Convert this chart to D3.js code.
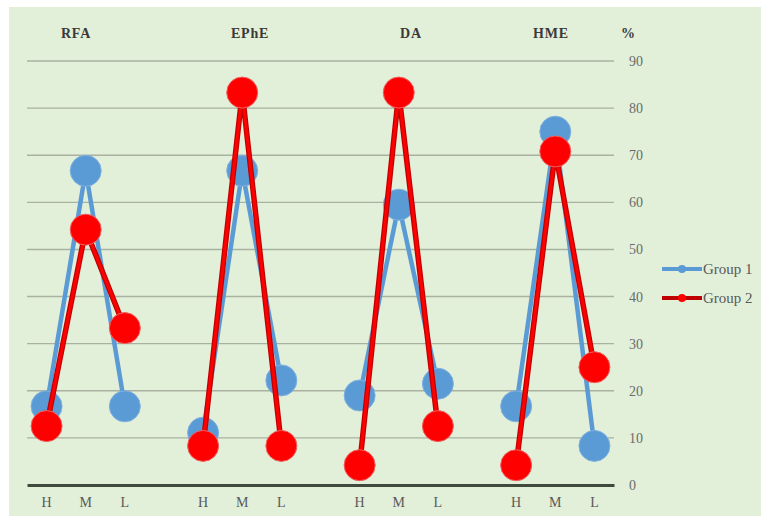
<!DOCTYPE html>
<html>
<head>
<meta charset="utf-8">
<script src="https://cdn.jsdelivr.net/npm/d3@7/dist/d3.min.js"></script>
<style>
html,body{margin:0;padding:0;background:#ffffff;}
svg{display:block;}
</style>
</head>
<body>
<svg id="chart" width="761" height="516"></svg>
<script>
// ---- data ----
const groups = ["RFA", "EPhE", "DA", "HME"];
const levels = ["H", "M", "L"];
const group1 = [16.7, 66.7, 16.7, 11.1, 66.7, 22.2, 19.0, 59.5, 21.5, 16.7, 75.0, 8.3];
const group2 = [12.5, 54.2, 33.3, 8.3, 83.3, 8.3, 4.2, 83.3, 12.5, 4.2, 70.8, 25.0];
const seriesNames = ["Group 1", "Group 2"];
const yTicks = [0, 10, 20, 30, 40, 50, 60, 70, 80, 90];
const unitLabel = "%";

// ---- layout ----
const W = 761, H = 516;
const plot = {left: 27, right: 614, top: 61, bottom: 485};
const titleX = [76, 250, 411, 551];
const colors = {g1: "#5b9bd5", g2: "#ff0000", g2edge: "#c00000"};

const svg = d3.select("#chart");
svg.append("rect").attr("x", 9).attr("y", 7).attr("width", W - 9).attr("height", H - 7).attr("fill", "#e2efd9");

// category slots: 3 per group plus one blank slot between groups
const slots = [];
groups.forEach((g, gi) => {
  levels.forEach((l, li) => slots.push({key: g + "-" + l, group: g, level: l, idx: gi * 3 + li}));
  if (gi < groups.length - 1) slots.push({key: "gap" + gi, gap: true});
});

const x = d3.scaleBand().domain(slots.map(s => s.key)).range([plot.left, plot.right]).paddingInner(0).paddingOuter(0);
const y = d3.scaleLinear().domain([0, 90]).range([plot.bottom, plot.top]);
const cx = s => x(s.key) + x.bandwidth() / 2;

// gridlines
svg.append("g").selectAll("line").data(yTicks.filter(t => t > 0)).join("line")
  .attr("x1", plot.left).attr("x2", plot.right)
  .attr("y1", d => y(d)).attr("y2", d => y(d))
  .attr("stroke", "#a9b2a0").attr("stroke-width", 1.4);

// y axis labels (right side)
const yAxis = d3.axisRight(y).tickValues(yTicks).tickSize(0).tickPadding(0);
const ya = svg.append("g").attr("transform", `translate(${plot.right + 15},0)`).call(yAxis);
ya.select(".domain").remove();
ya.selectAll("text").attr("font-family", "Liberation Serif, serif").attr("font-size", 14).attr("fill", "#6b6b6b");

// x axis line + labels
const realSlots = slots.filter(s => !s.gap);
const xAxis = d3.axisBottom(x).tickValues(realSlots.map(s => s.key)).tickFormat(k => k.split("-")[1]).tickSize(0).tickPadding(12);
const xa = svg.append("g").attr("transform", `translate(0,${plot.bottom})`).call(xAxis);
xa.select(".domain").attr("stroke", "#404a3c").attr("stroke-width", 3);
xa.selectAll("text").attr("font-family", "Liberation Serif, serif").attr("font-size", 14).attr("fill", "#595959");

// group titles
svg.append("g").selectAll("text").data(groups).join("text")
  .attr("x", (d, i) => titleX[i]).attr("y", 38)
  .attr("text-anchor", "middle").attr("font-family", "Liberation Serif, serif")
  .attr("font-weight", "bold").attr("font-size", 14).attr("letter-spacing", 0.8).attr("fill", "#3a3a3a")
  .text(d => d);
svg.append("text").attr("x", 628).attr("y", 38).attr("text-anchor", "middle")
  .attr("font-family", "Liberation Serif, serif").attr("font-weight", "bold").attr("font-size", 14).attr("fill", "#3a3a3a")
  .text(unitLabel);

// series
function seriesPoints(vals) {
  return realSlots.map(s => ({slot: s, v: vals[s.idx]}));
}
const line = d3.line().x(d => cx(d.slot)).y(d => y(d.v));

function drawSeries(vals, color, edge) {
  const g = svg.append("g");
  const pts = seriesPoints(vals);
  groups.forEach(gr => {
    const seg = pts.filter(p => p.slot.group === gr);
    if (edge) {
      g.append("path").attr("d", line(seg)).attr("fill", "none").attr("stroke", edge).attr("stroke-width", 5.5).attr("stroke-linejoin", "round");
      g.append("path").attr("d", line(seg)).attr("fill", "none").attr("stroke", color).attr("stroke-width", 3).attr("stroke-linejoin", "round");
    } else {
      g.append("path").attr("d", line(seg)).attr("fill", "none").attr("stroke", color).attr("stroke-width", 4.5).attr("stroke-linejoin", "round");
    }
  });
  g.selectAll("circle").data(pts).join("circle")
    .attr("cx", d => cx(d.slot)).attr("cy", d => y(d.v)).attr("r", 15.5)
    .attr("fill", color).attr("stroke", edge ? "#f06060" : "#7fb0e0").attr("stroke-width", 1);
}
drawSeries(group1, colors.g1, null);
drawSeries(group2, colors.g2, colors.g2edge);

// legend
const legend = svg.append("g");
const legY = [269, 298];
seriesNames.forEach((n, i) => {
  const gy = legY[i];
  const col = i === 0 ? colors.g1 : colors.g2edge;
  legend.append("line").attr("x1", 662).attr("x2", 702).attr("y1", gy).attr("y2", gy).attr("stroke", col).attr("stroke-width", 4);
  legend.append("circle").attr("cx", 682).attr("cy", gy).attr("r", 4).attr("fill", i === 0 ? colors.g1 : colors.g2);
  legend.append("text").attr("x", 703).attr("y", gy).attr("dy", "0.35em")
    .attr("font-family", "Liberation Serif, serif").attr("font-size", 15).attr("fill", "#595959").text(n);
});
</script>
</body>
</html>
